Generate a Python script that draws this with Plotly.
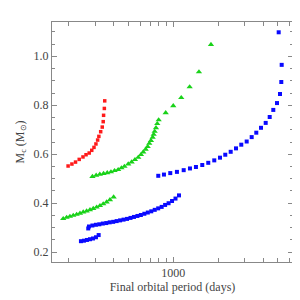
import plotly.graph_objects as go

# Red series
red_p = [198, 210, 222, 235, 249, 261, 274, 285, 295, 304, 312, 318, 327, 335, 340, 342, 346, 348]
red_m = [0.552, 0.560, 0.568, 0.579, 0.589, 0.598, 0.605, 0.616, 0.628, 0.642, 0.658, 0.673,
         0.692, 0.711, 0.733, 0.759, 0.787, 0.818]

# Green series (lower branch)
green_lo_p = [183.7, 193.6, 203.7, 214.4, 225.9, 237.7, 250.0, 263.4, 277.3, 291.7, 307.3,
              323.4, 340.2, 358.5, 377.2, 399.2]
green_lo_m = [0.337, 0.342, 0.346, 0.350, 0.354, 0.359, 0.364, 0.368, 0.373, 0.378, 0.384,
              0.390, 0.397, 0.405, 0.414, 0.425]

# Green series (upper branch)
green_hi_p = [288.0, 305.0, 322.8, 341.8, 361.8, 383.0, 404.9, 428.0, 450.3, 471.6, 500.0,
              526.8, 554.3, 583.3, 608.0, 630.0, 653.8, 674.3, 691.1, 709.3, 728.1, 739.4,
              750.9, 766.1, 781.6, 798.6, 889.7, 1000, 1131, 1287, 1485, 1787]
green_hi_m = [0.509, 0.514, 0.518, 0.521, 0.524, 0.528, 0.533, 0.537, 0.544, 0.550, 0.560,
              0.568, 0.578, 0.587, 0.598, 0.609, 0.620, 0.631, 0.644, 0.656, 0.669, 0.681,
              0.693, 0.708, 0.725, 0.740, 0.769, 0.798, 0.831, 0.875, 0.936, 1.048]

# Blue series (three branches)
blue_a_p = [241.3, 252.7, 264.7, 277.3, 290.4, 304.1, 317.0]
blue_a_m = [0.245, 0.247, 0.250, 0.253, 0.256, 0.261, 0.270]

blue_b_p = [270.0, 273.0, 287.9, 303.7, 320.3, 337.9, 356.4, 375.9, 396.4, 418.1, 441.0,
            465.2, 490.7, 517.6, 545.9, 575.8, 607.3, 640.6, 675.7, 712.6, 751.6, 792.8,
            836.3, 882.0, 930.5, 981.3, 1035, 1092]
blue_b_m = [0.297, 0.305, 0.309, 0.312, 0.314, 0.317, 0.319, 0.322, 0.324, 0.327, 0.330,
            0.333, 0.336, 0.340, 0.344, 0.348, 0.352, 0.357, 0.362, 0.367, 0.373, 0.379,
            0.385, 0.393, 0.400, 0.409, 0.419, 0.432]

blue_c_p = [793.7, 866.5, 954.8, 1058, 1174, 1293, 1418, 1563, 1714, 1880, 2053, 2227,
            2421, 2627, 2850, 3097, 3345, 3591, 3860, 4150, 4414, 4666, 4939, 5173, 5278,
            5310, 5070]
blue_c_m = [0.512, 0.517, 0.523, 0.528, 0.535, 0.542, 0.548, 0.556, 0.565, 0.575, 0.586,
            0.598, 0.610, 0.624, 0.639, 0.652, 0.670, 0.688, 0.708, 0.728, 0.752, 0.781,
            0.809, 0.846, 0.895, 0.965, 1.098]

x_major = [1000]
x_minor = [200, 300, 400, 500, 600, 700, 800, 900, 2000, 3000, 4000, 5000, 6000]
y_major = [0.2, 0.4, 0.6, 0.8, 1.0]

RED = "#ff1a1a"
GREEN = "#19d219"
BLUE = "#0a0aff"

fig = go.Figure()

def add(px, pm, color, symbol, size):
    fig.add_trace(go.Scatter(x=px, y=pm, mode="markers",
                             marker=dict(color=color, symbol=symbol, size=size,
                                         line=dict(width=0)),
                             showlegend=False, hoverinfo="skip"))

add(red_p, red_m, RED, "square", 3.5)
add(green_lo_p, green_lo_m, GREEN, "triangle-up", 5.5)
add(green_hi_p, green_hi_m, GREEN, "triangle-up", 5.5)
add(blue_a_p, blue_a_m, BLUE, "square", 4)
add(blue_b_p, blue_b_m, BLUE, "square", 4)
add(blue_c_p, blue_c_m, BLUE, "square", 4)

FONT = "Liberation Serif"
TXT = "#444444"
LINE = "#888888"

# page body has an 8px margin, so the figure is 292x292 and offsets are reduced by 8
fig.update_layout(
    width=292, height=292,
    margin=dict(l=44, r=7, t=14, b=38, autoexpand=False),
    paper_bgcolor="white", plot_bgcolor="white",
    font=dict(family=FONT, size=12, color=TXT),
    xaxis=dict(
        type="log", range=[2.189, 3.8007], automargin=False,
        showgrid=False, zeroline=False,
        showline=True, linecolor=LINE, linewidth=1, mirror="ticks",
        ticks="inside", ticklen=5, tickcolor=LINE, tickwidth=1,
        tickvals=x_major, ticktext=[str(v) for v in x_major],
        tickfont=dict(family=FONT, size=12, color=TXT),
        minor=dict(tickvals=x_minor, ticks="inside", ticklen=4, tickcolor=LINE, tickwidth=1),
        title=dict(text="Final orbital period (days)", font=dict(family=FONT, size=12, color=TXT),
                   standoff=2),
    ),
    yaxis=dict(
        range=[0.16, 1.14], automargin=False,
        showgrid=False, zeroline=False,
        showline=True, linecolor=LINE, linewidth=1, mirror="ticks",
        ticks="inside", ticklen=5, tickcolor=LINE, tickwidth=1,
        tickvals=y_major, ticktext=["%.1f" % v for v in y_major],
        tickfont=dict(family=FONT, size=12, color=TXT),
        minor=dict(dtick=0.05, ticks="inside", ticklen=3, tickcolor=LINE, tickwidth=1),
        title=dict(text="M<sub>c</sub> (M<sub>⊙</sub>)", font=dict(family=FONT, size=12, color=TXT),
                   standoff=6),
    ),
)

fig.write_html("out.html")
